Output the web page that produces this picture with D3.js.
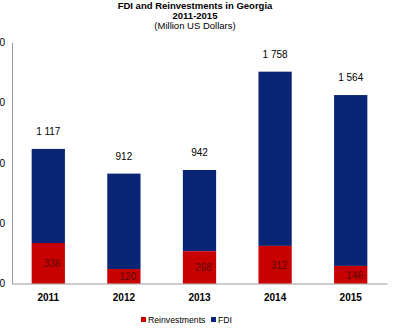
<!DOCTYPE html>
<html><head><meta charset="utf-8">
<script src="https://cdn.jsdelivr.net/npm/d3@7"></script>
<style>body{margin:0;background:#fff}svg{display:block;font-family:"Liberation Sans",Arial,sans-serif}</style>
</head><body>
<script>
const years = ["2011","2012","2013","2014","2015"];
const totals = [1117, 912, 942, 1758, 1564];
const reinvestments = [336, 120, 268, 312, 146];
const yTicks = [0, 500, 1000, 1500, 2000];
const yTickLabels = ["0", "500", "1 000", "1 500", "2 000"];
const totalLabels = ["1 117", "912", "942", "1 758", "1 564"];

const W = 400, H = 330;
const svg = d3.select("body").append("svg").attr("width", W).attr("height", H);

const x = d3.scaleBand().domain(years).range([12, 387]).paddingInner(0.56).paddingOuter(0.26);
const y = d3.scaleLinear().domain([0, 2000]).range([283.5, 42.5]);

// title
const t = svg.append("g").attr("text-anchor", "middle").attr("fill", "#000");
t.append("text").attr("x", 195).attr("y", 9).attr("font-size", 9.5).attr("font-weight", "bold").text("FDI and Reinvestments in Georgia");
t.append("text").attr("x", 195).attr("y", 19).attr("font-size", 9.5).attr("font-weight", "bold").text("2011-2015");
t.append("text").attr("x", 195).attr("y", 29).attr("font-size", 9.5).text("(Million US Dollars)");

// y axis
const ya = svg.append("g").attr("transform", "translate(12,0)")
  .call(d3.axisLeft(y).tickValues(yTicks).tickFormat((d,i)=>yTickLabels[i]).tickSize(0).tickPadding(7));
ya.select(".domain").attr("stroke", "#999");
ya.selectAll("text").attr("font-size", 10).attr("fill", "#000").attr("font-family", "Liberation Sans, Arial, sans-serif");

// x axis
const xa = svg.append("g").attr("transform", "translate(0,283.5)")
  .call(d3.axisBottom(x).tickSize(0).tickPadding(10).tickSizeOuter(0));
xa.select(".domain").attr("stroke", "#999");
xa.selectAll("text").attr("font-size", 10).attr("font-weight", "bold").attr("fill", "#000").attr("font-family", "Liberation Sans, Arial, sans-serif");

const data = years.map((yr, i) => ({yr, total: totals[i], re: reinvestments[i], lbl: totalLabels[i]}));

// FDI (blue) segment from reinvestment top to total
svg.append("g").selectAll("rect").data(data).join("rect")
  .attr("x", d => x(d.yr)).attr("width", x.bandwidth())
  .attr("y", d => y(d.total)).attr("height", d => y(d.re) - y(d.total))
  .attr("fill", "#0a2575");
// Reinvestments (red)
svg.append("g").selectAll("rect").data(data).join("rect")
  .attr("x", d => x(d.yr)).attr("width", x.bandwidth())
  .attr("y", d => y(d.re)).attr("height", d => y(0) - y(d.re))
  .attr("fill", "#c80000");

// red labels
svg.append("g").selectAll("text").data(data).join("text")
  .attr("x", d => x(d.yr) + x.bandwidth()/2 + 4)
  .attr("y", d => (y(d.re) + y(0))/2 + 4)
  .attr("text-anchor", "middle").attr("font-size", 10).attr("fill", "#5a0a0a")
  .text(d => d.re);

// total labels
svg.append("g").selectAll("text").data(data).join("text")
  .attr("x", d => x(d.yr) + x.bandwidth()/2)
  .attr("y", d => y(d.total) - 14)
  .attr("text-anchor", "middle").attr("font-size", 10).attr("fill", "#000")
  .text(d => d.lbl);

// legend
const lg = svg.append("g").attr("font-size", 8.7).attr("fill", "#000");
lg.append("rect").attr("x", 141).attr("y", 317).attr("width", 5).attr("height", 5).attr("fill", "#c80000");
lg.append("text").attr("x", 148).attr("y", 323).text("Reinvestments");
lg.append("rect").attr("x", 211).attr("y", 317).attr("width", 5).attr("height", 5).attr("fill", "#0a2575");
lg.append("text").attr("x", 218).attr("y", 323).text("FDI");
</script>
</body></html>
